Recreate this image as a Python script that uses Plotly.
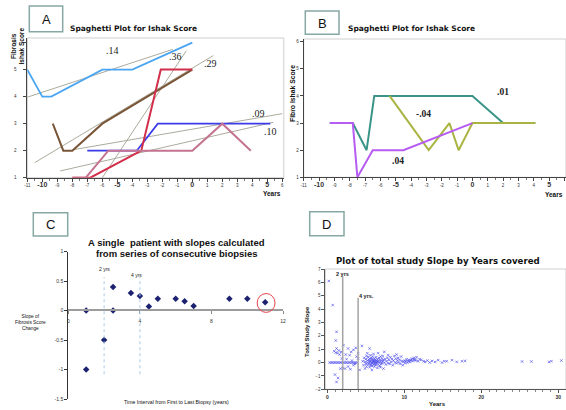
import plotly.graph_objects as go

W, H = 566, 410

# ---------------- Panel A data ----------------
a_lightblue_x = [-11, -10, -9.4, -6, -4, 0]
a_lightblue_y = [5, 4, 4, 5, 5, 6]
a_brown_x = [-9.3, -8.6, -8, -6, 0]
a_brown_y = [3, 2, 2, 3, 5]
a_navy_x = [-7, -3.7, -2.3, 5.2]
a_navy_y = [2, 2, 3, 3]
a_red_x = [-8, -6.8, -3.4, -2.1, 0]
a_red_y = [1, 1, 2, 5, 5]
a_mauve_x = [-8, -7.1, -5.6, 0, 2, 3.9]
a_mauve_y = [1, 1, 2, 2, 3, 2]
# fitted slope lines (start, end)
a_fit_x = [[-11, -1.3], [-6, -0.4], [-10.5, 1.4], [-8.0, 6.0], [-8.8, 5.4]]
a_fit_y = [[3.98, 5.75], [1.0, 5.7], [1.56, 5.52], [2.03, 3.37], [1.25, 3.05]]
a_slope_labels = [".14", ".36", ".29", ".09", ".10"]
a_label_x = [-5.3, -1.1, 1.2, 4.4, 5.2]
a_label_y = [5.7, 5.48, 5.24, 3.39, 2.7]

# ---------------- Panel B data ----------------
b_teal_x = [-9.3, -7.8, -6.9, -6.4, 0, 2, 4.1]
b_teal_y = [3, 3, 2, 4, 4, 3, 3]
b_olive_x = [-5.4, -2.85, -1.5, -0.9, 0, 4.1]
b_olive_y = [4, 2, 3, 2, 3, 3]
b_purple_x = [-9.3, -7.8, -7.5, -6.5, -4.5, 0]
b_purple_y = [3, 3, 1, 2, 2, 3]
b_slope_labels = [".01", "-.04", ".04"]
b_label_x = [1.97, -3.22, -4.85]
b_label_y = [4.14, 3.32, 1.6]

# ---------------- Panel C data ----------------
c_years = [1, 1, 2, 2.5, 2.5, 3.5, 4, 4.5, 5, 6, 6.5, 7, 9, 10, 11]
c_slope = [0, -1, -0.5, 0.4, 0, 0.3, 0.25, 0.07, 0.2, 0.2, 0.16, 0.08, 0.2, 0.2, 0.14]

# ---------------- Panel D data ----------------
d_pts = [
    (0.2, 6.1), (0.7, 4.3), (1.2, 2.3), (1.1, 1.65), (1.2, 1.05), (0.9, 0.85), (1.1, 0.75),
    (1.3, 0.7), (1.5, 0.9), (1.6, 0.6), (1.8, 0.8), (1.0, -0.9), (1.4, -1.15), (1.2, -1.45),
    (1.7, -0.45), (2.0, -0.4), (2.3, -0.45), (2.7, -0.3), (3.4, -0.2), (4.2, -0.55), (3.0, -0.5),
    (2.1, 1.3), (2.7, 1.05), (3.4, 0.95), (4.0, 0.7), (4.5, 1.25), (5.5, 1.05), (2.9, 0.55),
    (3.8, 0.45), (4.0, 0.3), (2.5, 0.25), (3.2, 0.15), (3.6, -0.1), (1.9, 0.3), (2.4, 0.6),
    (3.1, 0.8), (3.7, 1.1),
    (0.3, 0), (0.5, 0), (0.7, 0), (0.9, 0), (1.1, 0), (1.3, 0), (1.5, 0), (1.7, 0), (1.9, 0),
    (2.1, 0), (2.3, 0), (2.5, 0), (2.7, 0), (2.9, 0), (3.1, 0), (3.3, 0), (3.5, 0), (3.7, 0), (3.9, 0),
    (4.6, 0.1), (4.7, -0.2), (4.8, 0.35), (4.9, 0.05), (5.0, -0.1), (5.0, 0.25), (5.1, 0.5),
    (5.1, -0.3), (5.2, 0.15), (5.2, 0.0), (5.3, -0.15), (5.3, 0.4), (5.4, 0.2), (5.4, -0.05),
    (5.5, 0.1), (5.5, -0.35), (5.5, 0.3), (5.6, 0.05), (5.6, -0.2), (5.6, 0.55), (5.7, 0.15),
    (5.7, -0.1), (5.7, 0.35), (5.8, 0.0), (5.8, 0.25), (5.8, -0.25), (5.9, 0.1), (5.9, -0.05),
    (5.9, 0.45), (6.0, 0.2), (6.0, -0.15), (6.0, 0.05), (6.1, 0.3), (6.1, -0.3), (6.1, 0.1),
    (6.2, 0.0), (6.2, 0.2), (6.2, -0.1), (6.3, 0.4), (6.3, 0.05), (6.3, -0.2), (6.4, 0.15),
    (6.4, -0.05), (6.5, 0.25), (6.5, -0.4), (6.5, 0.05), (6.6, 0.1), (6.6, -0.15), (6.7, 0.35),
    (6.7, 0.0), (6.8, 0.2), (6.8, -0.25), (6.9, 0.05), (6.9, 0.45), (7.0, -0.1), (7.0, 0.15),
    (7.1, 0.3), (7.1, -0.05), (7.2, 0.1), (7.2, 0.5), (7.3, -0.45), (7.3, 0.2), (7.4, 0.8),
    (7.4, 0.0), (7.5, 0.25), (7.6, -0.15), (7.7, 0.1), (7.8, 0.35), (7.9, 0.55), (7.9, -0.05),
    (5.8, -0.55), (6.0, 0.65), (6.6, 0.7), (5.2, 0.7), (4.9, -0.45), (6.9, -0.35),
    (8.0, 0.2), (8.1, -0.1), (8.2, 0.4), (8.3, 0.05), (8.4, 0.25), (8.5, -0.2), (8.6, 0.15),
    (8.7, 0.5), (8.8, 0.0), (8.9, 0.3), (9.0, 0.6), (9.0, -0.05), (9.1, 0.15), (9.2, 0.35),
    (9.3, 0.0), (9.4, 0.2), (9.5, -0.1), (9.6, 0.45), (9.7, 0.1), (9.8, -0.2), (9.9, 0.05),
    (10.0, 0.15), (10.1, -0.05), (10.2, 0.1), (10.3, 0.25), (10.4, 0.0), (10.5, 0.1), (10.6, 0.2),
    (10.7, 0.05), (10.8, 0.15), (10.9, 0.2), (11.0, 0.3), (11.1, 0.1), (11.2, 0.25), (11.3, 0.35),
    (11.4, 0.2), (11.5, 0.15), (11.6, 0.4), (11.8, 0.1), (12.0, 0.25),
    (12.2, 0.2), (12.5, 0.1), (12.7, 0.05), (13.0, 0.15), (13.3, 0.0), (13.6, 0.12), (14.0, 0.05),
    (14.4, 0.18), (14.9, 0.0), (15.2, 0.1), (15.5, 0.1), (16.2, 0.18), (16.8, 0.05), (17.5, 0.1),
    (17.9, 0.13), (25.3, 0.08), (26.5, 0.08), (28.8, 0.05), (29.1, 0.1), (30.4, 0.15),
]
d_years = [p[0] for p in d_pts]
d_slope = [p[1] for p in d_pts]

SANS = "Liberation Sans, Arial, sans-serif"
WIDE = "DejaVu Sans, Verdana, sans-serif"
SERIF = "Liberation Serif, Times New Roman, serif"


def px(xp):
    return xp / W


def py(yp):
    return 1 - yp / H


fig = go.Figure()


def line(x, y, color, width, xa, ya):
    fig.add_trace(go.Scatter(x=x, y=y, mode="lines", line=dict(color=color, width=width),
                             xaxis=xa, yaxis=ya, hoverinfo="skip", showlegend=False))


# Panel A
for fx, fy in zip(a_fit_x, a_fit_y):
    line(fx, fy, "#ABAB9C", 1, "x", "y")
line(a_lightblue_x, a_lightblue_y, "#4AA5F2", 1.8, "x", "y")
line(a_brown_x, a_brown_y, "#7A5638", 2, "x", "y")
line(a_navy_x, a_navy_y, "#3B3BE8", 1.8, "x", "y")
line(a_red_x, a_red_y, "#D22E4A", 2, "x", "y")
line(a_mauve_x, a_mauve_y, "#C47490", 2, "x", "y")

# Panel B
line(b_teal_x, b_teal_y, "#3A9588", 2, "x2", "y2")
line(b_olive_x, b_olive_y, "#AAB442", 2, "x2", "y2")
line(b_purple_x, b_purple_y, "#B65CF2", 2, "x2", "y2")

# Panel C
fig.add_trace(go.Scatter(x=c_years, y=c_slope, mode="markers",
                         marker=dict(symbol="diamond", size=5, color="#1C2270"),
                         xaxis="x3", yaxis="y3", hoverinfo="skip", showlegend=False))

# Panel D
fig.add_trace(go.Scatter(x=d_years, y=d_slope, mode="markers",
                         marker=dict(symbol="x-thin", size=2.5,
                                     line=dict(width=0.9, color="rgba(70,70,235,0.7)")),
                         xaxis="x4", yaxis="y4", hoverinfo="skip", showlegend=False))

small = dict(family=SANS, size=4.5, color="#333")


def a_ticktext(vals):
    out = []
    for v in vals:
        if v % 5 == 0:
            out.append('<span style="font-size:7px"><b>%d</b></span>' % v)
        else:
            out.append(str(v))
    return out


xt = list(range(-11, 7))

layout = dict(
    width=W, height=H, margin=dict(l=0, r=0, t=0, b=0, autoexpand=False),
    paper_bgcolor="white", plot_bgcolor="white",
    xaxis=dict(domain=[px(27.3), px(283.8)], range=[-11, 6.1], anchor="y", automargin=False,
               showline=True, linecolor="#444", linewidth=1, ticks="outside", ticklen=3,
               tickcolor="#444", tickvals=xt, ticktext=a_ticktext(xt), tickfont=small,
               showgrid=False, zeroline=False,
               minor=dict(dtick=0.5, ticks="outside", ticklen=2, tickcolor="#777")),
    yaxis=dict(domain=[py(177.7), py(38)], range=[1, 6.17], anchor="x", automargin=False,
               showline=True, linecolor="#444", linewidth=1, ticks="outside", ticklen=3,
               tickcolor="#444", tickvals=[1, 2, 3, 4, 5, 6], tickfont=small,
               ticklabelstandoff=6, showgrid=False, zeroline=False),
    xaxis2=dict(domain=[px(303.7), 1], range=[-11, 6.1], anchor="y2", automargin=False,
                showline=True, linecolor="#444", linewidth=1, ticks="outside", ticklen=3,
                tickcolor="#444", tickvals=xt, ticktext=a_ticktext(xt), tickfont=small,
                showgrid=False, zeroline=False,
                minor=dict(dtick=0.5, ticks="outside", ticklen=2, tickcolor="#777")),
    yaxis2=dict(domain=[py(177.3), py(39)], range=[1, 6.1], anchor="x2", automargin=False,
                showline=True, linecolor="#444", linewidth=1, ticks="outside", ticklen=3,
                tickcolor="#444", tickvals=[1, 2, 3, 4, 5, 6], tickfont=small,
                showgrid=False, zeroline=False),
    xaxis3=dict(domain=[px(68.3), px(283.1)], range=[0, 12], anchor="free", automargin=False,
                position=py(310), showline=True, linecolor="#9C9C9C", linewidth=2,
                ticks="outside", ticklen=3, tickcolor="#888", tickvals=[0, 4, 8, 12],
                tickfont=dict(family=SANS, size=5, color="#333"), ticklabelstandoff=3,
                showgrid=False, zeroline=False),
    yaxis3=dict(domain=[py(399), py(251.7)], range=[-1.5, 1], anchor="x3", automargin=False,
                showline=True, linecolor="#333", linewidth=1.2, ticks="outside", ticklen=3,
                tickcolor="#333", tickvals=[1, 0.5, 0, -0.5, -1, -1.5],
                ticktext=["1", "0.5", "0", "-0.5", "-1", "-1.5"],
                tickfont=dict(family=SANS, size=5, color="#333"),
                showgrid=False, zeroline=False),
    xaxis4=dict(domain=[px(325.3), 1], range=[-0.26, 31], anchor="y4", automargin=False,
                showline=True, linecolor="#555", linewidth=1, ticks="outside", ticklen=3,
                tickcolor="#555", tickvals=[0, 10, 20, 30],
                ticktext=["<b>0</b>", "<b>10</b>", "<b>20</b>", "<b>30</b>"],
                tickfont=dict(family=SANS, size=5, color="#333"),
                minor=dict(dtick=1, ticks="outside", ticklen=2, tickcolor="#888"),
                showgrid=False, zeroline=False),
    yaxis4=dict(domain=[py(389.3), py(269)], range=[-2, 7], anchor="x4", automargin=False,
                showline=True, linecolor="#555", linewidth=1, ticks="outside", ticklen=3,
                tickcolor="#555", tickvals=list(range(-2, 8)),
                tickfont=dict(family=SANS, size=4.5, color="#333"),
                showgrid=False, zeroline=False),
)
fig.update_layout(**layout)

shapes = []
# light frames
for xr, yr in [("x", "y"), ("x2", "y2"), ("x4", "y4")]:
    shapes.append(dict(type="rect", xref=xr + " domain", yref=yr + " domain",
                       x0=0, x1=1, y0=0, y1=1, line=dict(color="#CFCFCF", width=1),
                       layer="below"))

# panel letter boxes
boxes = [("A", 29.3, 62.7, 6, 31.7), ("B", 305.3, 339, 11, 34.3),
         ("C", 33.3, 67.7, 212.7, 236), ("D", 309.7, 344, 211.7, 235.7)]
for letter, x0, x1, y0, y1 in boxes:
    shapes.append(dict(type="rect", xref="paper", yref="paper", x0=px(x0), x1=px(x1),
                       y0=py(y1), y1=py(y0), line=dict(color="#86A8A4", width=1.5),
                       fillcolor="white"))

# panel C guide lines and highlight ellipse
for xv in [2, 4]:
    shapes.append(dict(type="line", xref="x3", yref="y3", x0=xv, x1=xv, y0=-1.08, y1=0.57,
                       line=dict(color="#A9CCE8", width=1, dash="dot")))
shapes.append(dict(type="circle", xref="x3", yref="y3", x0=10.55, x1=11.55, y0=-0.03,
                   y1=0.29, line=dict(color="#E4434A", width=1)))

# panel D guide lines
shapes.append(dict(type="line", xref="x4", yref="y4", x0=2, x1=2, y0=-2, y1=6.45,
                   line=dict(color="#A3A3A3", width=1.5)))
shapes.append(dict(type="line", xref="x4", yref="y4", x0=4, x1=4, y0=-2, y1=4.85,
                   line=dict(color="#A3A3A3", width=1.5)))
fig.update_layout(shapes=shapes)

anns = []


def ann_px(xp, yp, text, size, family=SANS, xanchor="center", angle=0, color="#111"):
    anns.append(dict(x=px(xp), y=py(yp), xref="paper", yref="paper", text=text,
                     showarrow=False, xanchor=xanchor, yanchor="middle", textangle=angle,
                     font=dict(family=family, size=size, color=color)))


def ann_data(x, y, xr, yr, text, size, family=SERIF, xanchor="center", color="#222"):
    anns.append(dict(x=x, y=y, xref=xr, yref=yr, text=text, showarrow=False,
                     xanchor=xanchor, yanchor="middle",
                     font=dict(family=family, size=size, color=color)))


# letters
for letter, x0, x1, y0, y1 in boxes:
    ann_px((x0 + x1) / 2, (y0 + y1) / 2 + 0.5, letter, 13, color="#111")

# titles
ann_px(68.3, 28.3, "<b>Spaghetti Plot for Ishak Score</b>", 7.5, WIDE, "left")
ann_px(346.3, 28.3, "<b>Spaghetti Plot for Ishak Score</b>", 7.5, WIDE, "left")
ann_px(176.7, 242.7, "<b>A single  patient with slopes calculated</b>", 9.5)
ann_px(176.7, 253.5, "<b>from series of consecutive biopsies</b>", 9.5)
ann_px(438, 260.7, "<b>Plot of total study Slope by Years covered</b>", 8.6, WIDE)

# axis titles
ann_px(17.5, 46, "<b>Fibrosis<br>Ishak Score</b>", 6.5, angle=-90)
ann_px(283, 193, "<b>Years</b>", 6.5, xanchor="right")
ann_px(293, 94, "<b>Fibro Ishak Score</b>", 6.8, angle=-90)
ann_px(565, 194.3, "<b>Years</b>", 6.5, xanchor="right")
ann_px(30, 322, "Slope of<br>Fibrosis Score<br>Change", 4.8)
ann_px(176.7, 402, "Time Interval from First to Last Biopsy (years)", 5.2)
ann_px(307, 332, "<b>Total Study Slope</b>", 6, angle=-90)
ann_px(438, 404, "<b>Years</b>", 6)

# slope labels
for t, x, y in zip(a_slope_labels, a_label_x, a_label_y):
    ann_data(x, y, "x", "y", t, 10)
for t, x, y in zip(b_slope_labels, b_label_x, b_label_y):
    ann_data(x, y, "x2", "y2", "<b>%s</b>" % t, 9.5)

# guide labels
ann_data(2, 0.7, "x3", "y3", "2 yrs", 5, SANS)
ann_data(3.8, 0.6, "x3", "y3", "4 yrs", 5, SANS)
ann_data(2, 6.62, "x4", "y4", "<b>2 yrs</b>", 5.5, SANS)
ann_data(3.9, 5.0, "x4", "y4", "<b>4 yrs.</b>", 5.5, SANS, xanchor="left")

fig.update_layout(annotations=anns)

fig.write_html("out.html", config={"displayModeBar": False},
               post_script="document.body.style.margin='0';document.body.style.overflow='hidden';")
